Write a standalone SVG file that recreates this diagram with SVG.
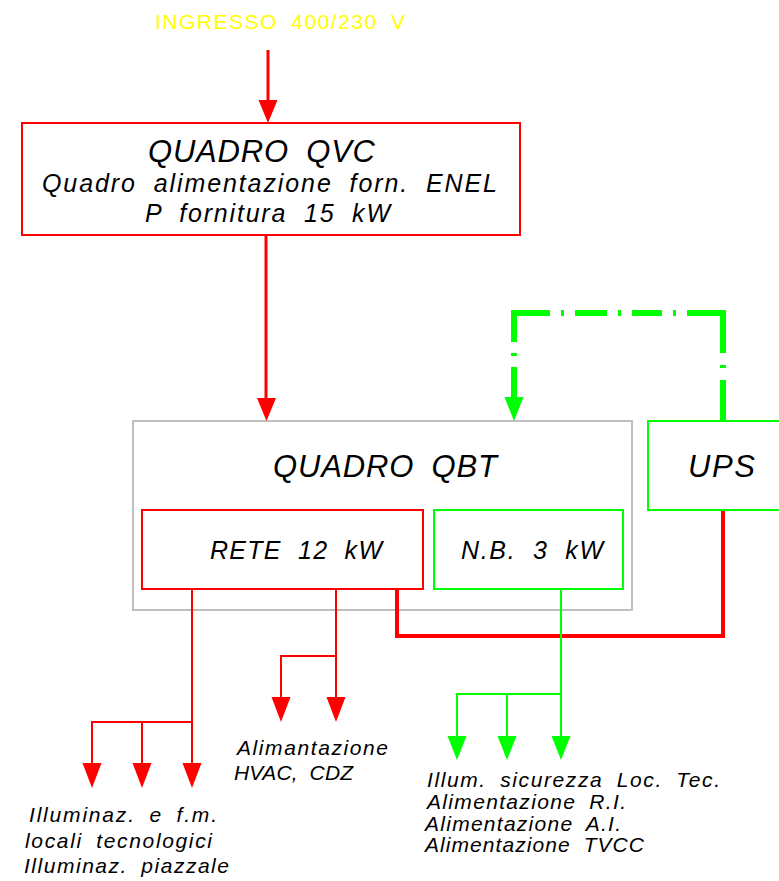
<svg xmlns="http://www.w3.org/2000/svg" width="779" height="881" viewBox="0 0 779 881">
<style>
text{font-family:"Liberation Sans",Arial,sans-serif;font-style:italic;fill:#000;}
.big{font-size:31px;}
.mid{font-size:25px;}
.sm{font-size:21px;}
.in{font-style:normal;fill:#ffff00;font-size:21px;}
.red{stroke:#ff0000;fill:none;}
.grn{stroke:#00ff00;fill:none;}
.box{fill:none;stroke-width:2;}
.thin{stroke-width:2;}
.thick{stroke-width:4;}
.dd{stroke:#00ff00;stroke-width:6;fill:none;stroke-linecap:butt;}
.ahr{fill:#ff0000;}
.ahg{fill:#00ff00;}
</style>
<rect width="779" height="881" fill="#fff"/>

<g id="ingresso">
  <text class="in" x="155" y="29" textLength="250" lengthAdjust="spacing" style="word-spacing:6px">INGRESSO 400/230 V</text>
</g>

<g id="qvc">
  <rect class="red box" x="22" y="123" width="498" height="112"/>
  <text class="big" x="148" y="162" textLength="227" lengthAdjust="spacing" style="word-spacing:8px">QUADRO QVC</text>
  <text class="mid" x="42" y="192" textLength="455" lengthAdjust="spacing" style="word-spacing:8px">Quadro alimentazione forn. ENEL</text>
  <text class="mid" x="145" y="222" textLength="245" lengthAdjust="spacing" style="word-spacing:8px">P fornitura 15 kW</text>
</g>

<g id="qbt">
  <rect x="133" y="421" width="499" height="189" fill="none" stroke="#bfbfbf" stroke-width="2"/>
  <text class="big" x="273" y="477" textLength="224" lengthAdjust="spacing" style="word-spacing:8px">QUADRO QBT</text>
</g>

<g id="rete">
  <rect class="red box" x="142" y="510" width="281" height="79"/>
  <text class="mid" x="210" y="559" textLength="172" lengthAdjust="spacing" style="word-spacing:8px">RETE 12 kW</text>
</g>

<g id="nb">
  <rect class="grn box" x="434" y="510" width="189" height="79"/>
  <text class="mid" x="461" y="559" textLength="142" lengthAdjust="spacing" style="word-spacing:8px">N.B. 3 kW</text>
</g>

<g id="ups">
  <rect class="grn box" x="648" y="421" width="140" height="89"/>
  <text class="big" x="688" y="477" textLength="67" lengthAdjust="spacing">UPS</text>
</g>

<g id="hvac-label">
  <text class="sm" x="237" y="755" textLength="151" lengthAdjust="spacing">Alimantazione</text>
  <text class="sm" x="234" y="780" textLength="119" lengthAdjust="spacing" style="word-spacing:6px">HVAC, CDZ</text>
</g>

<g id="illum-label">
  <text class="sm" x="29" y="822" textLength="188" lengthAdjust="spacing" style="word-spacing:6px">Illuminaz. e f.m.</text>
  <text class="sm" x="25" y="848" textLength="187" lengthAdjust="spacing" style="word-spacing:6px">locali tecnologici</text>
  <text class="sm" x="24" y="873" textLength="205" lengthAdjust="spacing" style="word-spacing:6px">Illuminaz. piazzale</text>
</g>

<g id="nb-label">
  <text class="sm" x="427" y="787" textLength="293" lengthAdjust="spacing" style="word-spacing:6px">Illum. sicurezza Loc. Tec.</text>
  <text class="sm" x="427" y="809" textLength="199" lengthAdjust="spacing" style="word-spacing:6px">Alimentazione R.I.</text>
  <text class="sm" x="425" y="831" textLength="196" lengthAdjust="spacing" style="word-spacing:6px">Alimentazione A.I.</text>
  <text class="sm" x="425" y="852" textLength="219" lengthAdjust="spacing" style="word-spacing:6px">Alimentazione TVCC</text>
</g>

<g id="connectors">
  <line class="red" stroke-width="3" x1="268" y1="50" x2="268" y2="101"/>
  <polygon class="ahr" points="258.5,100 277.5,100 268,123"/>
  <line class="red" stroke-width="3" x1="266" y1="236" x2="266" y2="399"/>
  <polygon class="ahr" points="257,398 276,398 266.5,421"/>
  <line class="dd" x1="723" y1="421" x2="723" y2="313" stroke-dasharray="41 12 3 12 40"/>
  <line class="dd" x1="726" y1="313" x2="511" y2="313" stroke-dasharray="39 11 3 11 30 11 3 11 32 11 3 11 39"/>
  <line class="dd" x1="514" y1="313" x2="514" y2="398" stroke-dasharray="29 11 3 11 31"/>
  <polygon class="ahg" points="504.5,397 523.5,397 514,421"/>
  <path class="red thick" d="M397 590 V636 H723 V511"/>
  <path class="red thin" d="M192 590 V764 M192 722 H92 V764 M142 722 V764"/>
  <polygon class="ahr" points="82.5,763 101.5,763 92,788"/>
  <polygon class="ahr" points="132.5,763 151.5,763 142,788"/>
  <polygon class="ahr" points="182.5,763 201.5,763 192,788"/>
  <path class="red thin" d="M336 590 V698 M336 656 H281 V698"/>
  <polygon class="ahr" points="271.5,697 290.5,697 281,722"/>
  <polygon class="ahr" points="326.5,697 345.5,697 336,722"/>
  <path class="grn thin" d="M561 590 V737 M561 694 H457 V737 M507 694 V737"/>
  <polygon class="ahg" points="447.5,736 466.5,736 457,760"/>
  <polygon class="ahg" points="497.5,736 516.5,736 507,760"/>
  <polygon class="ahg" points="551.5,736 570.5,736 561,760"/>
</g>
</svg>
